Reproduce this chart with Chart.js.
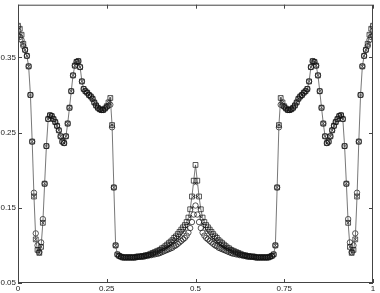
<!DOCTYPE html>
<html>
<head>
<meta charset="utf-8">
<script src="https://cdn.jsdelivr.net/npm/chart.js@4.4.1/dist/chart.umd.min.js"></script>
<style>
  html, body { margin: 0; padding: 0; background: #fff; }
  #wrap { width: 380px; height: 293px; }
</style>
</head>
<body>
<div id="wrap"><canvas id="chart"></canvas></div>
<script>
// sample positions 0 .. 1, step 0.005
const xs = Array.from({ length: 201 }, (_, i) => i / 200);

const squaresLeft = [
  0.392,0.388,0.380,0.368,0.360,0.352,0.338,0.300,0.238,0.165,
  0.108,0.094,0.090,0.098,0.130,0.182,0.232,0.268,0.273,0.272,
  0.268,0.264,0.259,0.253,0.245,0.238,0.236,0.245,0.262,0.283,
  0.305,0.326,0.339,0.344,0.345,0.337,0.318,0.308,0.305,0.303,
  0.300,0.298,0.295,0.290,0.286,0.283,0.281,0.280,0.280,0.282,
  0.285,0.290,0.296,0.260,0.177,0.100,0.088,0.086,0.085,0.084,
  0.084,0.084,0.084,0.084,0.084,0.084,0.084,0.085,0.085,0.085,
  0.086,0.086,0.087,0.087,0.088,0.089,0.090,0.091,0.092,0.093,
  0.094,0.096,0.097,0.099,0.101,0.103,0.105,0.107,0.110,0.112,
  0.115,0.118,0.121,0.124,0.127,0.131,0.137,0.148,0.165,0.186,
  0.207
];
const squaresRight = [
  0.186,0.165,0.148,0.137,0.131,0.127,0.124,0.121,0.118,0.115,
  0.112,0.110,0.107,0.105,0.103,0.101,0.099,0.097,0.096,0.094,
  0.093,0.092,0.091,0.090,0.089,0.088,0.087,0.087,0.086,0.086,
  0.085,0.085,0.085,0.084,0.084,0.084,0.084,0.084,0.084,0.084,
  0.084,0.085,0.086,0.088,0.100,0.177,0.260,0.296,0.290,0.285,
  0.282,0.280,0.280,0.281,0.283,0.286,0.290,0.295,0.298,0.300,
  0.303,0.305,0.308,0.318,0.337,0.345,0.344,0.339,0.326,0.305,
  0.283,0.262,0.245,0.236,0.238,0.245,0.253,0.259,0.264,0.268,
  0.272,0.273,0.268,0.232,0.182,0.130,0.098,0.090,0.094,0.108,
  0.165,0.238,0.300,0.338,0.352,0.360,0.368,0.380,0.388,0.392
];

const circlesLeft = [
  0.379,0.377,0.373,0.365,0.360,0.352,0.338,0.300,0.238,0.170,
  0.116,0.100,0.091,0.104,0.135,0.182,0.232,0.268,0.273,0.272,
  0.268,0.264,0.259,0.253,0.245,0.238,0.236,0.245,0.262,0.283,
  0.305,0.326,0.339,0.344,0.345,0.337,0.318,0.308,0.305,0.303,
  0.300,0.298,0.295,0.290,0.286,0.283,0.281,0.280,0.280,0.282,
  0.284,0.286,0.287,0.257,0.177,0.100,0.088,0.086,0.085,0.084,
  0.084,0.084,0.084,0.084,0.084,0.084,0.084,0.085,0.085,0.085,
  0.085,0.085,0.086,0.086,0.087,0.087,0.088,0.088,0.089,0.089,
  0.090,0.091,0.092,0.093,0.094,0.095,0.096,0.097,0.099,0.100,
  0.102,0.104,0.106,0.108,0.110,0.113,0.117,0.123,0.131,0.141,
  0.153
];
const circlesRight = [
  0.141,0.131,0.123,0.117,0.113,0.110,0.108,0.106,0.104,0.102,
  0.100,0.099,0.097,0.096,0.095,0.094,0.093,0.092,0.091,0.090,
  0.089,0.089,0.088,0.088,0.087,0.087,0.086,0.086,0.085,0.085,
  0.085,0.085,0.085,0.084,0.084,0.084,0.084,0.084,0.084,0.084,
  0.084,0.085,0.086,0.088,0.100,0.177,0.257,0.287,0.286,0.284,
  0.282,0.280,0.280,0.281,0.283,0.286,0.290,0.295,0.298,0.300,
  0.303,0.305,0.308,0.318,0.337,0.345,0.344,0.339,0.326,0.305,
  0.283,0.262,0.245,0.236,0.238,0.245,0.253,0.259,0.264,0.268,
  0.272,0.273,0.268,0.232,0.182,0.135,0.104,0.091,0.100,0.116,
  0.170,0.238,0.300,0.338,0.352,0.360,0.365,0.373,0.377,0.379
];

const crossesLeft = [
  0.392,0.388,0.380,0.368,0.360,0.352,0.338,0.300,0.238,0.165,
  0.108,0.094,0.090,0.098,0.130,0.182,0.232,0.268,0.273,0.272,
  0.268,0.264,0.259,0.253,0.245,0.238,0.236,0.245,0.262,0.283,
  0.305,0.326,0.339,0.344,0.345,0.337,0.318,0.308,0.305,0.303,
  0.300,0.298,0.295,0.290,0.286,0.283,0.281,0.280,0.280,0.282,
  0.285,0.290,0.296,0.260,0.177,0.100,0.088,0.086,0.085,0.084,
  0.084,0.084,0.084,0.084,0.084,0.084,0.084,0.085,0.085,0.085,
  0.086,0.086,0.087,0.087,0.088,0.089,0.090,0.091,0.092,0.093,
  0.094,0.095,0.096,0.097,0.098,0.099,0.101,0.103,0.105,0.107,
  0.109,0.111,0.114,0.117,0.120,0.124,0.129,0.138,0.150,0.165,
  0.182
];
const crossesRight = [
  0.165,0.150,0.138,0.129,0.124,0.120,0.117,0.114,0.111,0.109,
  0.107,0.105,0.103,0.101,0.099,0.098,0.097,0.096,0.095,0.094,
  0.093,0.092,0.091,0.090,0.089,0.088,0.087,0.087,0.086,0.086,
  0.085,0.085,0.085,0.084,0.084,0.084,0.084,0.084,0.084,0.084,
  0.084,0.085,0.086,0.088,0.100,0.177,0.260,0.296,0.290,0.285,
  0.282,0.280,0.280,0.281,0.283,0.286,0.290,0.295,0.298,0.300,
  0.303,0.305,0.308,0.318,0.337,0.345,0.344,0.339,0.326,0.305,
  0.283,0.262,0.245,0.236,0.238,0.245,0.253,0.259,0.264,0.268,
  0.272,0.273,0.268,0.232,0.182,0.130,0.098,0.090,0.094,0.108,
  0.165,0.238,0.300,0.338,0.352,0.360,0.368,0.380,0.388,0.392
];

const xTicks = [0, 0.25, 0.5, 0.75, 1];
const xTickLabels = ['0', '0.25', '0.5', '0.75', '1'];
const yTicks = [0.05, 0.15, 0.25, 0.35];
const yTickLabels = ['0.05', '0.15', '0.25', '0.35'];

const squares = squaresLeft.concat(squaresRight);
const circles = circlesLeft.concat(circlesRight);
const crosses = crossesLeft.concat(crossesRight);
const pts = arr => xs.map((x, i) => ({ x: x, y: arr[i] }));

// box round the plot, inward ticks on all four sides, tick labels
const frame = {
  id: 'frame',
  afterDraw(chart) {
    const { ctx, chartArea: a, scales } = chart;
    ctx.save();
    ctx.strokeStyle = '#444';
    ctx.lineWidth = 1;
    ctx.strokeRect(a.left + 0.5, a.top + 0.5, a.right - a.left - 1, a.bottom - a.top - 1);
    ctx.beginPath();
    xTicks.forEach(v => {
      const px = Math.round(scales.x.getPixelForValue(v)) + 0.5;
      ctx.moveTo(px, a.bottom); ctx.lineTo(px, a.bottom - 4);
      ctx.moveTo(px, a.top); ctx.lineTo(px, a.top + 4);
    });
    yTicks.forEach(v => {
      const py = Math.round(scales.y.getPixelForValue(v)) + 0.5;
      ctx.moveTo(a.left, py); ctx.lineTo(a.left + 4, py);
      ctx.moveTo(a.right, py); ctx.lineTo(a.right - 4, py);
    });
    ctx.stroke();

    ctx.fillStyle = '#222';
    ctx.font = '8px "Liberation Sans", Arial, sans-serif';
    ctx.textAlign = 'right';
    ctx.textBaseline = 'middle';
    yTicks.forEach((v, i) => {
      ctx.fillText(yTickLabels[i], a.left - 2, scales.y.getPixelForValue(v));
    });
    ctx.textAlign = 'center';
    ctx.textBaseline = 'top';
    xTicks.forEach((v, i) => {
      ctx.fillText(xTickLabels[i], scales.x.getPixelForValue(v), a.bottom + 2);
    });
    ctx.restore();
  }
};

const ctx = document.getElementById('chart').getContext('2d');

new Chart(ctx, {
  type: 'line',
  data: {
    datasets: [{
      label: 'squares',
      data: pts(squares),
      borderColor: '#555',
      borderWidth: 0.8,
      pointStyle: 'rect',
      pointRadius: 3.4,
      pointBorderColor: '#111',
      pointBorderWidth: 0.7,
      pointBackgroundColor: 'rgba(0,0,0,0)'
    }, {
      label: 'circles',
      data: pts(circles),
      showLine: false,
      pointStyle: 'circle',
      pointRadius: 2.7,
      pointBorderColor: '#111',
      pointBorderWidth: 0.7,
      pointBackgroundColor: 'rgba(0,0,0,0)'
    }, {
      label: 'crosses',
      data: pts(crosses),
      showLine: false,
      pointStyle: 'crossRot',
      pointRadius: 2.2,
      pointBorderColor: '#111',
      pointBorderWidth: 0.7
    }]
  },
  options: {
    responsive: true,
    maintainAspectRatio: false,
    animation: false,
    layout: { padding: { top: 3, right: 7, left: 0, bottom: 0 } },
    plugins: {
      legend: { display: false },
      tooltip: { enabled: false }
    },
    elements: { line: { tension: 0 } },
    scales: {
      x: {
        type: 'linear',
        min: 0,
        max: 1,
        grid: { display: false },
        border: { display: false },
        ticks: { display: false },
        afterFit: s => { s.height = 10; }
      },
      y: {
        min: 0.05,
        max: 0.42,
        grid: { display: false },
        border: { display: false },
        ticks: { display: false },
        afterFit: s => { s.width = 18; }
      }
    }
  },
  plugins: [frame]
});
</script>
</body>
</html>
